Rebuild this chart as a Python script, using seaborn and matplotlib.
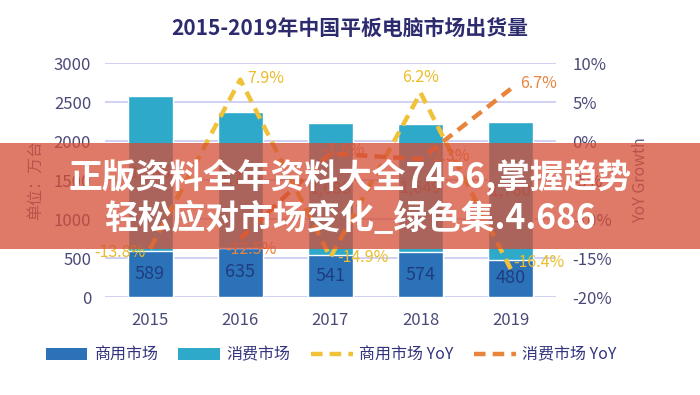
import numpy as np
import pandas as pd
import matplotlib
matplotlib.use("Agg")
import matplotlib.pyplot as plt
import seaborn as sns
from matplotlib.patches import Patch, Rectangle
from matplotlib.lines import Line2D

# ---------------- data ----------------
years = ["2015", "2016", "2017", "2018", "2019"]
commercial = [589, 635, 541, 574, 480]
consumer = [1985, 1745, 1688, 1649, 1760]
commercial_yoy = [-13.8, 7.9, -14.9, 6.2, -16.4]
consumer_yoy = [np.nan, -12.5, -1.6, -2.3, 6.7]
left_ticks = [0, 500, 1000, 1500, 2000, 2500, 3000]
right_ticks = [-20, -15, -10, -5, 0, 5, 10]
series_names = ["商用市场", "消费市场", "商用市场 YoY", "消费市场 YoY"]
title = "2015-2019年中国平板电脑市场出货量"
left_label = "单位：万台"
right_label = "YoY Growth"
banner_lines = ["正版资料全年资料大全7456,掌握趋势", "轻松应对市场变化_绿色集.4.686"]

# ---------------- style ----------------
BLUE = "#2b72b9"
TEAL = "#2fa9c9"
YELLOW = "#f0c23a"
ORANGE = "#e8843c"
GRID = "#c3c3ee"
NAVY = "#34347e"
TICK = "#4a4a78"
DASH = (0, (2.6, 1.6))

sns.set_theme(style="white")
plt.rcParams['font.family'] = ['Noto Sans CJK SC', 'DejaVu Sans']

fig = plt.figure(figsize=(7, 3.95), dpi=100)
fig.patch.set_facecolor("white")
ax = fig.add_axes([0.15, 0.248, 0.644, 0.592])

df = pd.DataFrame({"year": years, "commercial": commercial, "consumer": consumer})
df["total"] = df["commercial"] + df["consumer"]

sns.barplot(data=df, x="year", y="total", color=TEAL, width=0.5, saturation=1,
            errorbar=None, ax=ax, zorder=2)
sns.barplot(data=df, x="year", y="commercial", color=BLUE, width=0.5, saturation=1,
            errorbar=None, ax=ax, zorder=3)

ax.set_ylim(0, 3000)
ax.set_xlim(-0.5, 4.5)
ax.set_yticks(left_ticks)
ax.set_yticklabels([str(t) for t in left_ticks])
ax.set_xlabel("")
ax.set_ylabel("")
ax.grid(axis="y", color=GRID, lw=1.1, zorder=0)
ax.grid(axis="x", visible=False)
ax.set_axisbelow(True)
for s in ax.spines.values():
    s.set_visible(False)
ax.tick_params(axis="y", length=0, pad=10, labelsize=12, labelcolor=TICK)
ax.tick_params(axis="x", length=0, pad=11, labelsize=12, labelcolor=TICK)

# bar labels
for i, (c, s) in enumerate(zip(commercial, consumer)):
    ax.text(i, c / 2, f"{c}", ha="center", va="center", fontsize=13,
            color="#1f3d7e", zorder=5)
    ax.text(i, c + s / 2, f"{s:,}", ha="center", va="center", fontsize=12,
            color="#5d6270", zorder=5)

# ---------------- YoY lines ----------------
ax2 = ax.twinx()
xs = list(range(len(years)))
sns.lineplot(x=xs, y=commercial_yoy, ax=ax2, color=YELLOW, lw=3.2,
             dashes=False, linestyle=DASH)
sns.lineplot(x=xs, y=consumer_yoy, ax=ax2, color=ORANGE, lw=3.2,
             dashes=False, linestyle=DASH)
ax2.set_ylim(-20, 10)
ax2.set_xlim(-0.5, 4.5)
ax2.set_yticks(right_ticks)
ax2.set_yticklabels([f"{t}%" for t in right_ticks])
ax2.grid(False)
for s in ax2.spines.values():
    s.set_visible(False)
ax2.tick_params(axis="y", length=0, pad=12, labelsize=12, labelcolor=TICK)

# YoY labels (offset in points, alignment)
yellow_offsets = [(-3, -3, "right"), (5, 1, "left"), (5, 0, "left"), (0, 11, "center"), (2, 5, "left")]
orange_offsets = [(0, 0, "left"), (8, -8, "center"), (-6, 2, "left"), (5, 2, "left"), (7, 4, "left")]
for i, v in enumerate(commercial_yoy):
    dx, dy, ha = yellow_offsets[i]
    ax2.annotate(f"{v}%", (i, v), xytext=(dx, dy), textcoords="offset points",
                 ha=ha, va="center", fontsize=11.5, color="#eabd2a", zorder=6)
for i, v in enumerate(consumer_yoy):
    if np.isnan(v):
        continue
    dx, dy, ha = orange_offsets[i]
    ax2.annotate(f"{v}%", (i, v), xytext=(dx, dy), textcoords="offset points",
                 ha=ha, va="center", fontsize=11.5, color=ORANGE, zorder=6)

# axis titles
fig.text(35 / 700, 1 - 180 / 395, left_label, rotation=90, ha="center", va="center",
         fontsize=11.5, color="#6a6488")
fig.text(641 / 700, 1 - 180 / 395, right_label, rotation=90, ha="center", va="center",
         fontsize=11.5, color="#6a6488")

# title
fig.text(0.5, 1 - 28 / 395, title, ha="center", va="center", fontsize=15,
         fontweight="bold", color="#2c2b6e")

# legend
handles = [
    Patch(facecolor=BLUE, edgecolor="none"),
    Patch(facecolor=TEAL, edgecolor="none"),
    Line2D([0], [0], color=YELLOW, lw=3.2, linestyle=DASH),
    Line2D([0], [0], color=ORANGE, lw=3.2, linestyle=DASH),
]
fig.legend(handles, series_names, loc="center", bbox_to_anchor=(0.473, 1 - 355 / 395),
           ncol=4, frameon=False, fontsize=11.5, handlelength=2.6, handleheight=0.75,
           columnspacing=1.3, handletextpad=0.4, labelcolor=NAVY)

# overlay banner
fig.add_artist(Rectangle((0, 1 - 249 / 395), 1, 106 / 395, transform=fig.transFigure,
                         facecolor=(0.835, 0.30, 0.21), alpha=0.75, edgecolor="none",
                         zorder=10))
fig.text(0.5, 1 - 177 / 395, banner_lines[0], ha="center", va="center", fontsize=24.3,
         fontweight="heavy", color="white", zorder=11)
fig.text(0.5, 1 - 219 / 395, banner_lines[1], ha="center", va="center", fontsize=24.3,
         fontweight="heavy", color="white", zorder=11)

fig.savefig("out.png", dpi=100, facecolor="white")
